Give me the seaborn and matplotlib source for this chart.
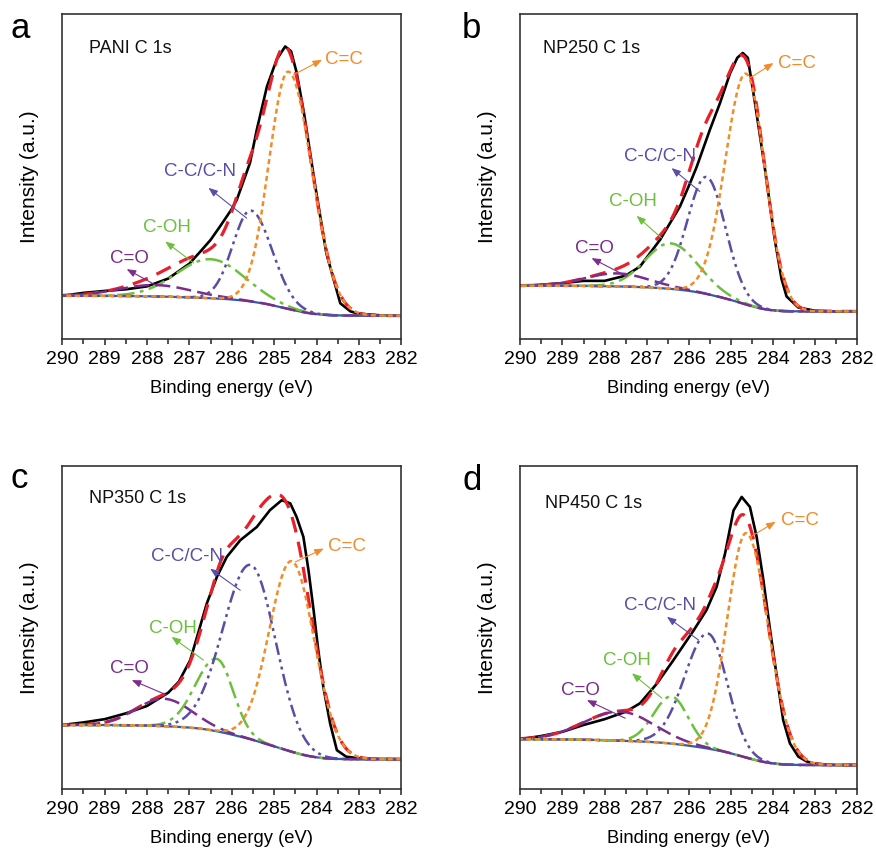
import numpy as np
import pandas as pd
import seaborn as sns
import matplotlib
matplotlib.use("Agg")
import matplotlib.pyplot as plt

# ---------------- data ----------------
panel_letters = ["a", "b", "c", "d"]
panel_titles = ["PANI C 1s", "NP250 C 1s", "NP350 C 1s", "NP450 C 1s"]
component_names = ["C=C", "C-C/C-N", "C-OH", "C=O"]
x_ticks = [290, 289, 288, 287, 286, 285, 284, 283, 282]

# measured spectra (binding energy, normalised intensity)
a_be = [290.0, 289.5, 289.0, 288.5, 288.0, 287.5, 287.0, 286.75, 286.5, 286.28, 286.0, 285.88,
        285.57, 285.41, 285.17, 284.94, 284.74, 284.6, 284.47, 284.29, 284.03, 283.77, 283.44,
        283.2, 283.0, 282.5, 282.0]
a_meas = [0.133, 0.142, 0.148, 0.153, 0.162, 0.186, 0.232, 0.268, 0.305, 0.346, 0.40, 0.429,
          0.542, 0.644, 0.777, 0.86, 0.90, 0.885, 0.82, 0.69, 0.47, 0.265, 0.11,
          0.085, 0.078, 0.073, 0.072]

b_be = [290.0, 289.5, 289.0, 288.5, 288.0, 287.5, 287.16, 286.68, 286.21, 285.97, 285.81, 285.5,
        285.26, 285.02, 284.85, 284.72, 284.6, 284.43, 284.19, 283.96, 283.8, 283.68, 283.4,
        283.0, 282.5, 282.0]
b_meas = [0.164, 0.167, 0.172, 0.179, 0.179, 0.195, 0.223, 0.306, 0.408, 0.48, 0.531, 0.644,
          0.726, 0.818, 0.865, 0.88, 0.865, 0.726, 0.521, 0.306, 0.185, 0.131, 0.097,
          0.087, 0.085, 0.085]

c_be = [290.0, 289.5, 289.0, 288.5, 288.0, 287.5, 287.25, 286.98, 286.59, 286.35, 286.12, 285.8,
        285.41, 285.1, 284.82, 284.62, 284.47, 284.31, 284.19, 284.07, 283.96, 283.84, 283.68,
        283.52, 283.3, 283.0, 282.5, 282.0]
c_meas = [0.198, 0.206, 0.216, 0.234, 0.257, 0.298, 0.332, 0.399, 0.574, 0.657, 0.718, 0.77,
          0.811, 0.863, 0.894, 0.884, 0.842, 0.78, 0.677, 0.554, 0.43, 0.316, 0.203,
          0.12, 0.10, 0.095, 0.093, 0.092]

d_be = [290.0, 289.5, 289.0, 288.5, 288.0, 287.5, 287.16, 286.76, 286.37, 285.89, 285.58, 285.34,
        285.14, 284.94, 284.745, 284.55, 284.39, 284.23, 284.07, 283.91, 283.76, 283.6, 283.4,
        283.2, 283.0, 282.5, 282.0]
d_meas = [0.154, 0.164, 0.177, 0.198, 0.216, 0.239, 0.265, 0.326, 0.398, 0.49, 0.554, 0.626,
          0.729, 0.862, 0.904, 0.873, 0.78, 0.646, 0.49, 0.347, 0.213, 0.141, 0.10,
          0.085, 0.078, 0.074, 0.074]

# fitted components: C=C, C-C/C-N, C-OH, C=O
a_center = [284.66, 285.55, 286.50, 287.80]
a_height = [0.73, 0.28, 0.12, 0.035]
a_fwhm_hi = [1.08, 0.99, 1.88, 2.00]   # high-BE half side
a_fwhm_lo = [1.30, 1.18, 1.88, 2.00]   # low-BE half side
a_bg = [0.133, 0.072]                  # Shirley background: 290 eV level, 282 eV level

b_center = [284.64, 285.58, 286.43, 287.70]
b_height = [0.71, 0.36, 0.14, 0.04]
b_fwhm_hi = [1.15, 1.06, 1.41, 1.77]
b_fwhm_lo = [1.06, 1.06, 1.53, 1.77]
b_bg = [0.164, 0.085]

c_center = [284.58, 285.55, 286.35, 287.60]
c_height = [0.59, 0.54, 0.224, 0.085]
c_fwhm_hi = [1.25, 1.53, 1.18, 1.53]
c_fwhm_lo = [1.25, 1.38, 0.90, 1.53]
c_bg = [0.198, 0.092]

d_center = [284.63, 285.54, 286.41, 287.63]
d_height = [0.695, 0.356, 0.146, 0.09]
d_fwhm_hi = [1.06, 1.30, 0.99, 2.00]
d_fwhm_lo = [1.22, 1.06, 0.92, 1.88]
d_bg = [0.154, 0.074]

# annotation label positions (eV, intensity) and arrow tail/head
a_label_xy = [(283.80, 0.860), (286.75, 0.516), (287.54, 0.342), (288.42, 0.249)]
a_arrow_tail = [(284.54, 0.813), (285.65, 0.372), (286.90, 0.234), (287.77, 0.164)]
a_arrow_head = [(283.87, 0.859), (286.55, 0.465), (287.57, 0.300), (288.48, 0.215)]

b_label_xy = [(283.88, 0.849), (286.69, 0.562), (287.32, 0.424), (288.25, 0.280)]
b_arrow_tail = [(284.55, 0.803), (285.74, 0.454), (286.65, 0.311), (287.48, 0.193)]
b_arrow_head = [(283.99, 0.849), (286.41, 0.526), (287.24, 0.379), (288.31, 0.249)]

c_label_xy = [(283.72, 0.750), (287.06, 0.719), (287.39, 0.497), (288.42, 0.373)]
c_arrow_tail = [(284.50, 0.703), (285.80, 0.615), (286.67, 0.399), (287.54, 0.291)]
c_arrow_head = [(283.83, 0.744), (286.51, 0.682), (287.42, 0.471), (288.36, 0.337)]

d_label_xy = [(283.82, 0.832), (286.68, 0.569), (287.47, 0.399), (288.58, 0.306)]
d_arrow_tail = [(284.54, 0.780), (285.77, 0.461), (286.64, 0.281), (287.51, 0.219)]
d_arrow_head = [(283.94, 0.827), (286.52, 0.533), (287.35, 0.358), (288.42, 0.275)]

title_xy = [(0.080, 0.895), (0.066, 0.895), (0.080, 0.899), (0.073, 0.884)]

# ---------------- styling ----------------
sns.set_theme(style="white")
plt.rcParams["font.family"] = ["Liberation Sans", "DejaVu Sans"]

comp_colors = ["#F28C28", "#5B4DA6", "#6CBF3F", "#7B2D8E"]
comp_styles = [(0, (2.0, 1.4)), (0, (5, 1.8, 1.2, 1.8, 1.2, 1.8)),
               (0, (7, 2.2, 1.5, 2.2)), (0, (6, 2.5))]
draw_order = [2, 3, 1, 0]

fig = plt.figure(figsize=(8.76, 8.51), dpi=100)
positions = [[0.0711, 0.6016, 0.3870, 0.3820],
             [0.5940, 0.6016, 0.3847, 0.3820],
             [0.0711, 0.0729, 0.3870, 0.3796],
             [0.5940, 0.0729, 0.3847, 0.3796]]
letter_pos = [(10, 38), (462, 38), (11, 488), (462, 490)]

panels = [
    (a_be, a_meas, a_center, a_height, a_fwhm_hi, a_fwhm_lo, a_bg, a_label_xy, a_arrow_tail, a_arrow_head),
    (b_be, b_meas, b_center, b_height, b_fwhm_hi, b_fwhm_lo, b_bg, b_label_xy, b_arrow_tail, b_arrow_head),
    (c_be, c_meas, c_center, c_height, c_fwhm_hi, c_fwhm_lo, c_bg, c_label_xy, c_arrow_tail, c_arrow_head),
    (d_be, d_meas, d_center, d_height, d_fwhm_hi, d_fwhm_lo, d_bg, d_label_xy, d_arrow_tail, d_arrow_head),
]

grid = np.linspace(282.0, 290.0, 801)


def asym_gauss(x, c, h, fw_hi, fw_lo):
    s = np.where(x >= c, fw_hi, fw_lo) / 2.3548
    return h * np.exp(-0.5 * ((x - c) / s) ** 2)


for i, (be, meas, cen, hgt, fhi, flo, bgl, lab, tail, head) in enumerate(panels):
    ax = fig.add_axes(positions[i])
    comps = [asym_gauss(grid, cen[k], hgt[k], fhi[k], flo[k]) for k in range(4)]
    total = np.sum(comps, axis=0)
    cum = np.cumsum(total)
    bg = bgl[1] + (bgl[0] - bgl[1]) * cum / cum[-1]

    sns.lineplot(x=grid, y=bg, ax=ax, color="#2F5DA8", lw=1.6, estimator=None, sort=False)
    sns.lineplot(x=be, y=meas, ax=ax, color="black", lw=1.9, estimator=None, sort=False)
    sns.lineplot(x=grid, y=bg + total, ax=ax, color="#E8202A", lw=2.3,
                 linestyle=(0, (5, 3)), estimator=None, sort=False)
    for k in draw_order:
        sns.lineplot(x=grid, y=bg + comps[k], ax=ax, color=comp_colors[k], lw=1.8,
                     linestyle=comp_styles[k], estimator=None, sort=False)

    for k in range(4):
        ha = "left" if k == 0 else "center"
        ax.text(lab[k][0], lab[k][1], component_names[k], color=comp_colors[k],
                fontsize=13.5, ha=ha, va="center")
        ax.annotate("", xy=head[k], xytext=tail[k],
                    arrowprops=dict(arrowstyle="-|>,head_length=0.45,head_width=0.18",
                                    color=comp_colors[k], lw=0.8, shrinkA=0, shrinkB=0))

    ax.text(title_xy[i][0], title_xy[i][1], panel_titles[i], transform=ax.transAxes,
            fontsize=13, ha="left", va="center", color="#111111")

    ax.set_xlim(290, 282)
    ax.set_ylim(0, 1)
    ax.set_xticks(x_ticks)
    ax.set_xticklabels([str(t) for t in x_ticks])
    ax.set_xticks(np.arange(282.5, 290, 1.0), minor=True)
    ax.set_yticks([])
    ax.tick_params(axis="x", which="major", direction="out", length=4.5, width=1.1,
                   labelsize=14, pad=4, bottom=True, colors="#222222", labelcolor="black")
    ax.tick_params(axis="x", which="minor", direction="out", length=3.5, width=1.1,
                   bottom=True, colors="#222222")
    for sp in ax.spines.values():
        sp.set_color("#333333")
        sp.set_linewidth(1.2)
    ax.set_xlabel("Binding energy (eV)", fontsize=13.2, labelpad=9, color="black")
    ax.set_ylabel("Intensity (a.u.)", fontsize=15, labelpad=17, color="black")

    lx, ly = letter_pos[i]
    fig.text(lx / 876, 1 - ly / 851, panel_letters[i], fontsize=25, ha="left",
             va="baseline", color="black")

fig.savefig("out.png", dpi=100)
